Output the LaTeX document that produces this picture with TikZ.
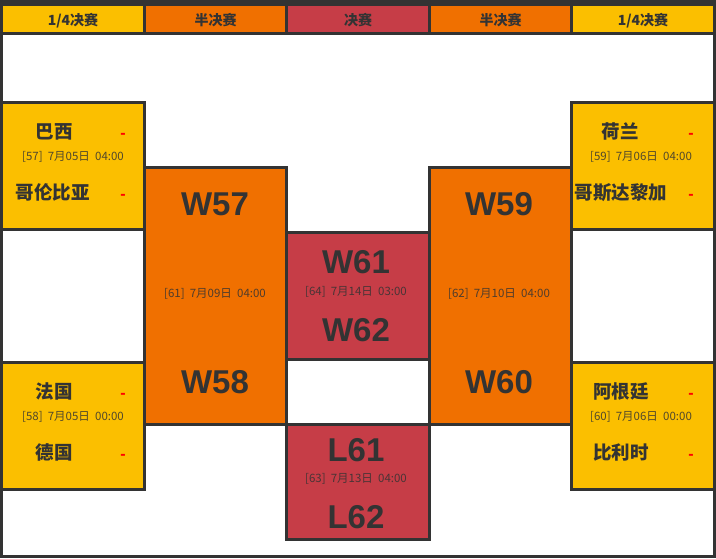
\documentclass[tikz,border=0pt]{standalone}
\usepackage{fontspec}
\setmainfont{Liberation Sans}
\newfontfamily\cjk{Noto Sans CJK SC}
\definecolor{qfc}{HTML}{FBBF00}
\definecolor{sfc}{HTML}{F07000}
\definecolor{fc}{HTML}{C63D47}
\definecolor{bd}{HTML}{333333}
\definecolor{tx}{HTML}{333333}
\tikzset{
  box/.style={draw=bd, line width=3pt, inner sep=0pt, outer sep=0pt, anchor=center},
  hdrbox/.style={box, minimum height=29pt},
  hdrtxt/.style={font=\cjk\bfseries\fontsize{14}{16}\selectfont, text=tx, inner sep=0pt},
  qfbox/.style={box, fill=qfc, minimum width=143pt, minimum height=127pt},
  sfbox/.style={box, fill=sfc, minimum width=142pt, minimum height=257pt},
  fbox/.style={box, fill=fc, minimum width=143pt},
  team/.style={font=\cjk\bfseries\fontsize{18.5}{20}\selectfont, text=tx, inner sep=0pt},
  datetxt/.style={font=\cjk\fontsize{11.5}{13}\selectfont, text=tx, text opacity=0.85, inner sep=0pt},
  big/.style={font=\bfseries\fontsize{33}{36}\selectfont, text=tx, inner sep=0pt},
  dashtxt/.style={font=\bfseries\fontsize{16}{16}\selectfont, text=red, anchor=base, inner sep=0pt}
}
\newcommand{\mdate}[3]{[#1]\hspace{0.45em}#2\hspace{0.45em}#3}
\begin{document}
\begin{tikzpicture}[x=1pt,y=-1pt]
\useasboundingbox (0,0) rectangle (716,558);
\fill[white] (0,0) rectangle (716,558);
% header
\node[hdrbox, fill=qfc, minimum width=143pt] (h1) at (73,19) {};
\node[hdrbox, fill=sfc, minimum width=142pt] (h2) at (215.5,19) {};
\node[hdrbox, fill=fc,  minimum width=143pt] (h3) at (358,19) {};
\node[hdrbox, fill=sfc, minimum width=142pt] (h4) at (500.5,19) {};
\node[hdrbox, fill=qfc, minimum width=143pt] (h5) at (643,19) {};
\node[hdrtxt] (t1) at (73,20.5) {1/4决赛};
\node[hdrtxt] (t2) at (215.5,20.5) {半决赛};
\node[hdrtxt] (t3) at (358,20.5) {决赛};
\node[hdrtxt] (t4) at (500.5,20.5) {半决赛};
\node[hdrtxt] (t5) at (643,20.5) {1/4决赛};
\fill[bd] (0,0) rectangle (716,6);
% quarter final boxes
\node[qfbox] (q57) at (73,166) {};
\node[qfbox] (q58) at (73,426) {};
\node[qfbox] (q59) at (643,166) {};
\node[qfbox] (q60) at (643,426) {};
% semi final boxes
\node[sfbox] (s61) at (215.5,296) {};
\node[sfbox] (s62) at (500.5,296) {};
% final and third place
\node[fbox, minimum height=127pt] (f64) at (358,296) {};
\node[fbox, minimum height=115pt] (f63) at (358,482) {};
% quarter final texts
\node[team] (n1) at (54,131.5) {巴西};
\node[team] (n2) at (53,192.5) {哥伦比亚};
\node[datetxt] (d57) at (73,157) {\mdate{57}{7月05日}{04:00}};
\node[dashtxt] (r1) at (123,138.5) {-};
\node[dashtxt] (r2) at (123,199.5) {-};
\node[team] (n3) at (54,391.5) {法国};
\node[team] (n4) at (54,452.5) {德国};
\node[datetxt] (d58) at (73,417) {\mdate{58}{7月05日}{00:00}};
\node[dashtxt] (r3) at (123,398.5) {-};
\node[dashtxt] (r4) at (123,459.5) {-};
\node[team] (n5) at (620,131.5) {荷兰};
\node[team] (n6) at (621,192.5) {哥斯达黎加};
\node[datetxt] (d59) at (641,157) {\mdate{59}{7月06日}{04:00}};
\node[dashtxt] (r5) at (691,138.5) {-};
\node[dashtxt] (r6) at (691,199.5) {-};
\node[team] (n7) at (621,391.5) {阿根廷};
\node[team] (n8) at (621,452.5) {比利时};
\node[datetxt] (d60) at (641,417) {\mdate{60}{7月06日}{00:00}};
\node[dashtxt] (r7) at (691,398.5) {-};
\node[dashtxt] (r8) at (691,459.5) {-};
% semi final texts
\node[big] (w57) at (215,204) {W57};
\node[big] (w58) at (215,382) {W58};
\node[datetxt] (d61) at (215,294) {\mdate{61}{7月09日}{04:00}};
\node[big] (w59) at (499,204) {W59};
\node[big] (w60) at (499,382) {W60};
\node[datetxt] (d62) at (499,294) {\mdate{62}{7月10日}{04:00}};
% final texts
\node[big] (w61) at (356,262.5) {W61};
\node[big] (w62) at (356,330.5) {W62};
\node[datetxt] (d64) at (356,292) {\mdate{64}{7月14日}{03:00}};
\node[big] (l61) at (356,450) {L61};
\node[big] (l62) at (356,517.5) {L62};
\node[datetxt] (d63) at (356,479) {\mdate{63}{7月13日}{04:00}};
% outer frame
\draw[bd, line width=3pt] (1.5,1.5) rectangle (714.5,556.5);
\end{tikzpicture}
\end{document}
